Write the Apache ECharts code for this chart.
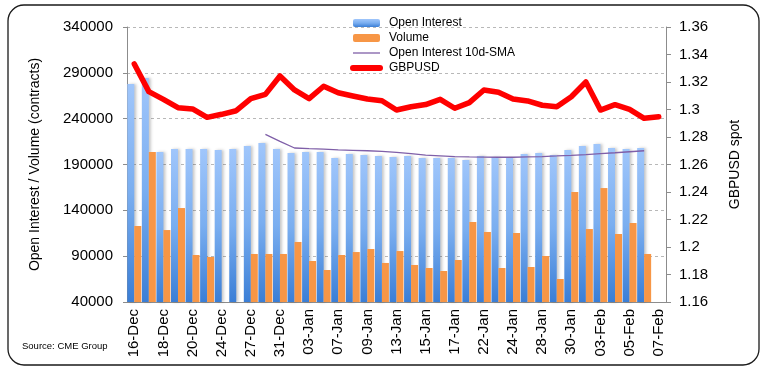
<!DOCTYPE html>
<html>
<head>
<meta charset="utf-8">
<style>
	html, body { margin: 0; padding: 0; background: #fff; }
	#oiChart { width: 764px; height: 375px; }
</style>
<script src="https://cdn.jsdelivr.net/npm/echarts@6/dist/echarts.min.js"></script>
</head>
<body>
<div id="oiChart"></div>
<script>
// 交易日
var categories = ['16-Dec', '17-Dec', '18-Dec', '19-Dec', '20-Dec', '23-Dec', '24-Dec', '26-Dec', '27-Dec', '30-Dec', '31-Dec',
	'02-Jan', '03-Jan', '06-Jan', '07-Jan', '08-Jan', '09-Jan', '10-Jan', '13-Jan', '14-Jan', '15-Jan', '16-Jan', '17-Jan',
	'21-Jan', '22-Jan', '23-Jan', '24-Jan', '27-Jan', '28-Jan', '29-Jan', '30-Jan', '31-Jan',
	'03-Feb', '04-Feb', '05-Feb', '06-Feb', '07-Feb'];
// 持仓量
var openInterest = [277800, 284400, 203600, 206900, 206900, 206900, 205800, 206900, 210200, 213500, 206900,
	202500, 203600, 203600, 197100, 201500, 200400, 199300, 198200, 199300, 197100, 197100, 197100,
	194900, 199300, 198200, 197100, 201500, 202500, 200400, 205800, 210200,
	212400, 208000, 206900, 208000, null];
// 成交量
var volume = [122900, 203600, 118500, 142500, 91300, 89100, null, null, 92400, 92400, 92400,
	105500, 84700, 74900, 91300, 94500, 97800, 82600, 95600, 80400, 77100, 73800, 85800,
	127300, 116400, 77100, 115300, 78200, 90200, 65100, 160000, 119600,
	164300, 114200, 126200, 92400, null];
// 持仓量10日均线
var oiSma = [null, null, null, null, null, null, null, null, null, 222900, 215300,
	208000, 207300, 206700, 206000, 205500, 205000, 204400, 203200, 201800, 200200, 199500, 198700,
	198300, 198000, 197900, 197900, 198300, 198700, 199300, 200000, 200800,
	201800, 202800, 203900, 205000, null];
// GBPUSD 现货
var gbpusd = [1.3331, 1.3130, 1.3074, 1.3013, 1.3004, 1.2943, 1.2965, 1.2991, 1.3079, 1.3110, 1.3244,
	1.3142, 1.3079, 1.3169, 1.3122, 1.3098, 1.3076, 1.3064, 1.2996, 1.3020, 1.3036, 1.3074, 1.3009,
	1.3050, 1.3142, 1.3125, 1.3076, 1.3062, 1.3031, 1.3020, 1.3093, 1.3200,
	1.2996, 1.3035, 1.3001, 1.2936, 1.2948];

var fontName = 'Liberation Sans';
var axisGray = '#8c8c8c';

var myChart = echarts.init(document.getElementById('oiChart'));
var option = {
	animation: false,
	textStyle: {
		fontFamily: fontName
	},
	graphic: [{
		type: 'rect',
		shape: { x: 8, y: 5, width: 751, height: 360, r: 16 },
		style: { fill: 'none', stroke: '#1a1a1a', lineWidth: 1.3 },
		silent: true
	}, {
		type: 'text',
		left: 22,
		top: 341,
		style: { text: 'Source: CME Group', fontSize: 9.5, fontFamily: fontName, fill: '#000' }
	}],
	legend: {
		orient: 'vertical',
		left: 350,
		top: 17,
		padding: 0,
		itemWidth: 27,
		itemHeight: 8,
		itemGap: 3,
		textStyle: {
			fontSize: 12,
			color: '#000',
			fontFamily: fontName,
			padding: [0, 0, 0, 4]
		},
		data: ['Open Interest', 'Volume',
			{ name: 'Open Interest 10d-SMA', itemStyle: { opacity: 0 }, lineStyle: { width: 1.3 } },
			{ name: 'GBPUSD', itemStyle: { opacity: 0 }, lineStyle: { width: 6, cap: 'round' } }]
	},
	grid: {
		left: 127,
		right: 98,
		top: 27,
		bottom: 73
	},
	xAxis: [{
		type: 'category',
		data: categories,
		boundaryGap: true,
		axisLine: { lineStyle: { color: axisGray } },
		axisTick: { interval: 0, length: 5, lineStyle: { color: axisGray } },
		axisLabel: {
			interval: 1,
			rotate: 90,
			margin: 7,
			fontSize: 15,
			color: '#000'
		}
	}],
	yAxis: [{
		type: 'value',
		min: 40000,
		max: 340000,
		interval: 50000,
		name: 'Open Interest / Volume (contracts)',
		nameLocation: 'middle',
		nameRotate: 90,
		nameGap: 85,
		nameTextStyle: { fontSize: 14, color: '#000' },
		axisLine: { show: true, lineStyle: { color: axisGray } },
		axisTick: { show: true, length: 4, lineStyle: { color: axisGray } },
		axisLabel: {
			fontSize: 15,
			color: '#000',
			margin: 14,
			formatter: function(v) { return String(v); }
		},
		splitLine: { lineStyle: { color: '#b8b8b8', type: [3, 3] } }
	}, {
		type: 'value',
		min: 1.16,
		max: 1.36,
		interval: 0.02,
		name: 'GBPUSD spot',
		nameLocation: 'middle',
		nameRotate: 90,
		nameGap: 62,
		nameTextStyle: { fontSize: 14, color: '#000' },
		axisLine: { show: true, lineStyle: { color: axisGray } },
		axisTick: { show: true, length: 5, lineStyle: { color: axisGray } },
		axisLabel: { fontSize: 15, color: '#000', margin: 13 },
		splitLine: { show: false }
	}],
	series: [{
		name: 'Open Interest',
		type: 'bar',
		data: openInterest,
		barGap: '0%',
		barCategoryGap: '4%',
		itemStyle: {
			color: new echarts.graphic.LinearGradient(0, 0, 0, 1, [
				{ offset: 0, color: '#a0c6fb' },
				{ offset: 0.5, color: '#7aaef0' },
				{ offset: 1, color: '#3a7ed6' }
			]),
			shadowColor: 'rgba(0,0,0,0.22)',
			shadowBlur: 3,
			shadowOffsetX: 2
		}
	}, {
		name: 'Volume',
		type: 'bar',
		data: volume,
		barGap: '0%',
		barCategoryGap: '4%',
		itemStyle: {
			color: '#f79646'
		}
	}, {
		name: 'Open Interest 10d-SMA',
		type: 'line',
		data: oiSma,
		symbol: 'none',
		z: 4,
		lineStyle: { color: '#7f5fa8', width: 1.3 },
		itemStyle: { color: '#7f5fa8' }
	}, {
		name: 'GBPUSD',
		type: 'line',
		yAxisIndex: 1,
		data: gbpusd,
		symbol: 'none',
		z: 5,
		lineStyle: { color: '#ff0000', width: 5.5, cap: 'round', join: 'round' },
		itemStyle: { color: '#ff0000' }
	}]
};
myChart.setOption(option);
</script>
</body>
</html>
